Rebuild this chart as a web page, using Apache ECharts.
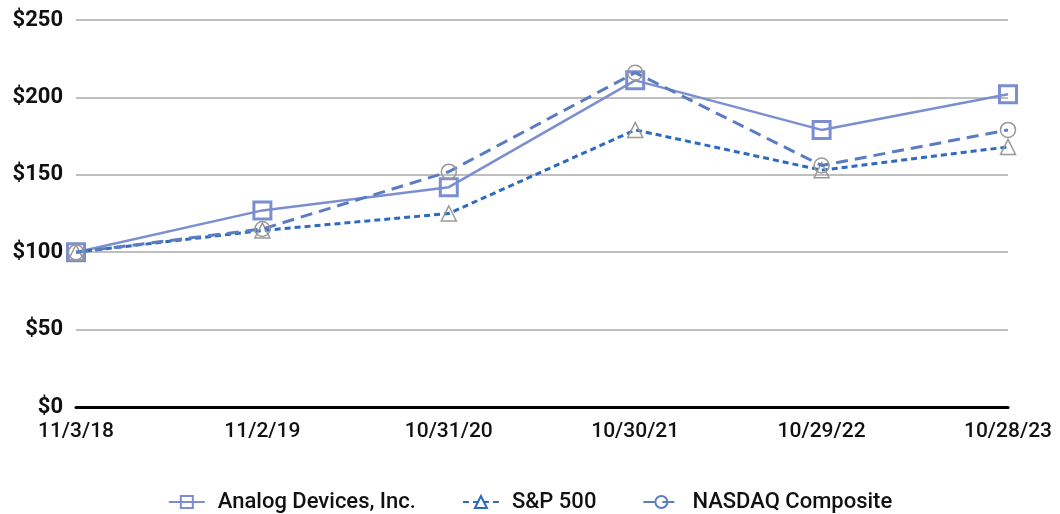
<!DOCTYPE html>
<html>
<head>
<meta charset="utf-8">
<script src="https://cdn.jsdelivr.net/npm/echarts@6/dist/echarts.min.js"></script>
<style>
	html, body { margin: 0; padding: 0; background: #fff; }
	#chart { width: 1060px; height: 514px; }
</style>
</head>
<body>
<div id="chart"></div>
<script>
// data
const dates = ['11/3/18', '11/2/19', '10/31/20', '10/30/21', '10/29/22', '10/28/23']
const adi = [100, 127, 142, 211, 179, 202]
const sp500 = [100, 114, 125, 179, 153, 168]
const nasdaq = [100, 115, 152, 216, 156, 179]

const font = 'Roboto'
const chart = echarts.init(document.getElementById('chart'))

chart.setOption({
	animation: false,
	grid: {
		left: 76,
		right: 52,
		top: 20,
		bottom: 107
	},
	legend: {
		bottom: -4,
		left: 'center',
		itemWidth: 36,
		itemHeight: 15,
		itemGap: 46,
		textStyle: {
			fontFamily: font,
			fontSize: 22,
			fontWeight: 500,
			color: '#111',
			padding: [0, 0, 0, 8]
		},
		data: [
			{ name: 'Analog Devices, Inc.', itemStyle: { color: 'transparent', borderColor: '#7b8fd0', borderWidth: 2 } },
			{ name: 'S&P 500', itemStyle: { color: 'transparent', borderColor: '#2e6bbf', borderWidth: 2 } },
			{ name: 'NASDAQ Composite', itemStyle: { color: 'transparent', borderColor: '#5b7cc4', borderWidth: 2 } }
		]
	},
	xAxis: {
		type: 'category',
		data: dates,
		boundaryGap: false,
		axisLine: { lineStyle: { color: '#000', width: 3 } },
		axisTick: { show: false },
		axisLabel: {
			fontFamily: font,
			fontSize: 21,
			fontWeight: 500,
			color: '#111',
			margin: 14
		}
	},
	yAxis: {
		type: 'value',
		min: 0,
		max: 250,
		interval: 50,
		axisLine: { show: false },
		axisTick: { show: false },
		splitLine: { lineStyle: { color: '#aaa', width: 1.5 } },
		axisLabel: {
			formatter: '${value}',
			fontFamily: font,
			fontSize: 22,
			fontWeight: 'bold',
			color: '#111',
			margin: 13
		}
	},
	series: [
		{
			name: 'Analog Devices, Inc.',
			type: 'line',
			data: adi,
			symbol: 'rect',
			symbolSize: 17,
			lineStyle: { color: '#7b8fd0', width: 2.5 },
			itemStyle: { color: 'transparent', borderColor: '#7b8fd0', borderWidth: 3 },
			z: 2
		},
		{
			name: 'S&P 500',
			type: 'line',
			data: sp500,
			symbol: 'triangle',
			symbolSize: 15,
			lineStyle: { color: '#2e6bbf', width: 3, type: [6, 4] },
			itemStyle: { color: 'transparent', borderColor: '#999', borderWidth: 1.5 },
			z: 3
		},
		{
			name: 'NASDAQ Composite',
			type: 'line',
			data: nasdaq,
			symbol: 'circle',
			symbolSize: 15,
			lineStyle: { color: '#5b7cc4', width: 3, type: [12, 7] },
			itemStyle: { color: 'transparent', borderColor: '#999', borderWidth: 1.5 },
			z: 4
		}
	]
})
</script>
</body>
</html>
